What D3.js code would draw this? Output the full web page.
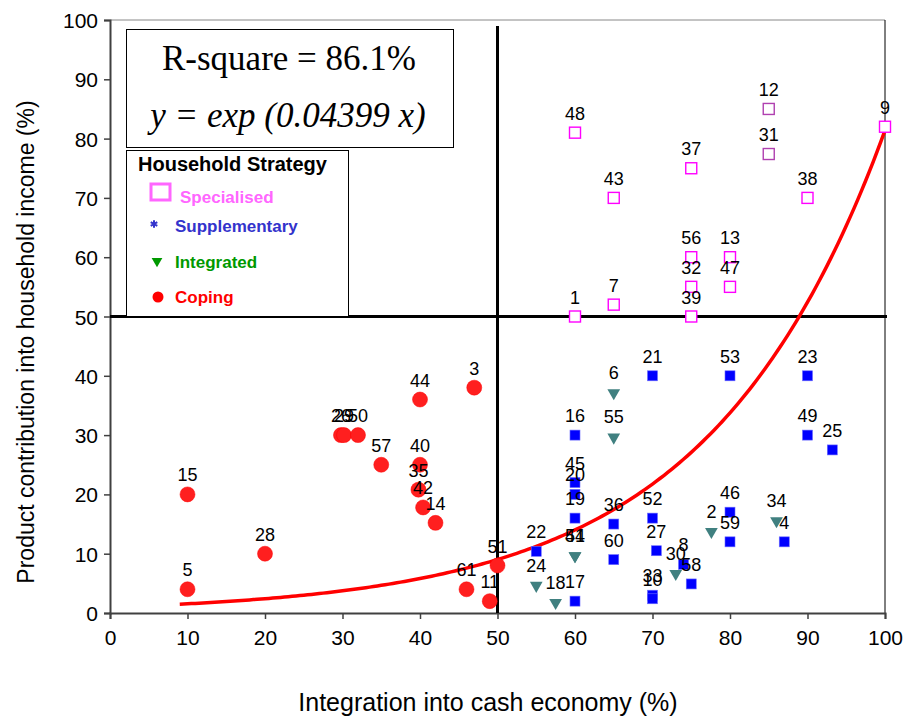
<!DOCTYPE html>
<html>
<head>
<meta charset="utf-8">
<script src="https://cdn.jsdelivr.net/npm/d3@7"></script>
<style>
  body { margin: 0; background: #fff; }
  svg { display: block; }
</style>
</head>
<body>
<div id="chart"></div>
<script>
// [household id, integration into cash economy %, product contribution %]
const specialised = [
    [48, 60, 81], [12, 85, 85], [9, 100, 82], [31, 85, 77.4], [37, 75, 75],
    [43, 65, 70], [38, 90, 70], [56, 75, 60], [13, 80, 60], [32, 75, 55],
    [47, 80, 55], [7, 65, 52], [1, 60, 50], [39, 75, 50]
]
const supplementary = [
    [21, 70, 40], [53, 80, 40], [23, 90, 40], [16, 60, 30], [49, 90, 30],
    [25, 93.2, 27.5], [45, 60, 22], [20, 60, 20], [19, 60, 16], [36, 65, 15],
    [52, 70, 16], [46, 80, 17], [59, 80, 12], [4, 87, 12], [22, 55, 10.4],
    [60, 65, 9], [27, 70.5, 10.5], [8, 74, 8.2], [58, 75, 4.9], [33, 70, 3],
    [10, 70, 2.4], [17, 60, 2]
]
const integrated = [
    [6, 65, 37.3], [55, 65, 29.8], [41, 60, 9.8], [54, 60, 9.8], [24, 55, 4.8],
    [18, 57.5, 1.9], [30, 73, 6.8], [2, 77.6, 13.9], [34, 86, 15.7]
]
const coping = [
    [5, 10, 4], [15, 10, 20], [28, 20, 10], [26, 29.8, 30], [29, 30.2, 30],
    [50, 32, 30], [57, 35, 25], [44, 40, 36], [40, 40, 25], [35, 39.8, 20.8],
    [42, 40.4, 17.8], [14, 42, 15.2], [3, 47, 38], [61, 46, 4], [11, 49, 2],
    [51, 50, 8]
]

const xTicks = [0, 10, 20, 30, 40, 50, 60, 70, 80, 90, 100]
const yTicks = [0, 10, 20, 30, 40, 50, 60, 70, 80, 90, 100]

// fitted model shown in the box: y = exp(b x)
const fitCoef = 0.04399
const fitFrom = 9
const fitTo = 100
const rSquare = "86.1%"

const legendItems = [
    { name: "Specialised", color: "#ff66ff", marker: "square" },
    { name: "Supplementary", color: "#3333cc", marker: "star" },
    { name: "Integrated", color: "#009900", marker: "triangle" },
    { name: "Coping", color: "#ff0000", marker: "circle" }
]


const width = 905
const height = 719
const sans = "'Liberation Sans', Arial, sans-serif"
const serif = "'Liberation Serif', 'Times New Roman', serif"

const x = d3.scaleLinear().domain([0, 100]).range([110, 885])
const y = d3.scaleLinear().domain([0, 100]).range([613, 20])

const svg = d3.select("#chart")
    .append("svg")
    .attr("width", width)
    .attr("height", height)

// frame
svg.append("line")
    .attr("x1", x(0)).attr("x2", x(100))
    .attr("y1", y(100)).attr("y2", y(100))
    .attr("stroke", "#888").attr("stroke-width", 1)
svg.append("line")
    .attr("x1", x(100)).attr("x2", x(100))
    .attr("y1", y(100)).attr("y2", y(0))
    .attr("stroke", "#000").attr("stroke-width", 1)

// axes
const xAxis = svg.append("g")
    .attr("transform", `translate(0, ${y(0)})`)
    .call(d3.axisBottom(x).tickValues(xTicks).tickSize(6).tickPadding(6))
const yAxis = svg.append("g")
    .attr("transform", `translate(${x(0)}, 0)`)
    .call(d3.axisLeft(y).tickValues(yTicks).tickSize(6).tickPadding(6))

for (const ax of [xAxis, yAxis]) {
    ax.select(".domain").attr("stroke", "#404040").attr("stroke-width", 2)
    ax.selectAll(".tick line").attr("stroke", "#404040").attr("stroke-width", 1.5)
    ax.selectAll(".tick text")
        .attr("fill", "#000")
        .style("font-family", sans)
        .style("font-size", "21px")
}
xAxis.selectAll(".tick text").attr("dy", "0.95em")
yAxis.selectAll(".tick text").attr("dy", "0.36em")

// quadrant lines at 50 / 50
svg.append("line")
    .attr("x1", x(50)).attr("x2", x(50))
    .attr("y1", y(99)).attr("y2", y(0))
    .attr("stroke", "#000").attr("stroke-width", 3)
svg.append("line")
    .attr("x1", x(0)).attr("x2", x(100) + 2)
    .attr("y1", y(50)).attr("y2", y(50))
    .attr("stroke", "#000").attr("stroke-width", 3)

// axis titles
svg.append("text")
    .attr("x", 488).attr("y", 711)
    .attr("text-anchor", "middle")
    .style("font-family", sans).style("font-size", "25px")
    .text("Integration into cash economy (%)")
svg.append("text")
    .attr("transform", "translate(34, 342) rotate(-90)")
    .attr("text-anchor", "middle")
    .style("font-family", sans).style("font-size", "23px")
    .text("Product contribution into household income (%)")

// fitted curve
const fitLine = d3.line()
    .x(d => x(d))
    .y(d => y(Math.exp(fitCoef * d)))
svg.append("path")
    .datum(d3.range(fitFrom, fitTo + 0.5, 0.5))
    .attr("fill", "none")
    .attr("stroke", "#ff0000")
    .attr("stroke-width", 3.5)
    .attr("d", fitLine)

// markers
const gPts = svg.append("g").attr("class", "points")

gPts.selectAll(".cop")
    .data(coping)
    .join("circle")
    .attr("cx", d => x(d[1]))
    .attr("cy", d => y(d[2]))
    .attr("r", 7.5)
    .attr("fill", "#ff1f1f")
    .attr("stroke", "#f00")
    .attr("stroke-width", 0.5)

gPts.selectAll(".sup")
    .data(supplementary)
    .join("rect")
    .attr("x", d => x(d[1]) - 5)
    .attr("y", d => y(d[2]) - 5)
    .attr("width", 10)
    .attr("height", 10)
    .attr("fill", "#0000ff")
    .attr("stroke", "#6b6bff")
    .attr("stroke-width", 0.6)

const tri = d3.symbol().type(d3.symbolTriangle).size(70)
gPts.selectAll(".int")
    .data(integrated)
    .join("path")
    .attr("transform", d => `translate(${x(d[1])}, ${y(d[2]) + 1}) rotate(180)`)
    .attr("d", tri)
    .attr("fill", "#408080")

gPts.selectAll(".spec")
    .data(specialised)
    .join("rect")
    .attr("x", d => x(d[1]) - 5.5)
    .attr("y", d => y(d[2]) - 5.5)
    .attr("width", 11)
    .attr("height", 11)
    .attr("fill", "#fff")
    .attr("stroke", d => (d[0] === 12 || d[0] === 31) ? "#b040b0" : "#ff00ff")
    .attr("stroke-width", 1.4)

// id labels above every point
const allPoints = [...coping, ...supplementary, ...integrated, ...specialised]
svg.append("g")
    .selectAll("text")
    .data(allPoints)
    .join("text")
    .attr("x", d => x(d[1]))
    .attr("y", d => y(d[2]) - 13)
    .attr("text-anchor", "middle")
    .style("font-family", sans)
    .style("font-size", "18px")
    .attr("fill", "#000")
    .text(d => d[0])

// model box
svg.append("rect")
    .attr("x", 126.5).attr("y", 29.5)
    .attr("width", 327).attr("height", 118)
    .attr("fill", "#fff").attr("stroke", "#000").attr("stroke-width", 1)
svg.append("text")
    .attr("x", 289).attr("y", 70)
    .attr("text-anchor", "middle")
    .style("font-family", serif).style("font-size", "35px")
    .text(`R-square = ${rSquare}`)
svg.append("text")
    .attr("x", 288).attr("y", 127)
    .attr("text-anchor", "middle")
    .style("font-family", serif).style("font-size", "35px")
    .style("font-style", "italic")
    .text(`y = exp (${fitCoef} x)`)

// legend box
const lg = svg.append("g").attr("class", "legend")
lg.append("rect")
    .attr("x", 126.5).attr("y", 150.5)
    .attr("width", 222).attr("height", 166)
    .attr("fill", "#fff").attr("stroke", "#000").attr("stroke-width", 1)
lg.append("text")
    .attr("x", 138).attr("y", 171)
    .style("font-family", sans).style("font-size", "20px")
    .style("font-weight", "bold")
    .text("Household Strategy")

const rowY = [192, 224, 261, 297]
const textX = [180, 175, 175, 175]
const textY = [203, 232, 268, 303]

const items = lg.selectAll(".legend-item")
    .data(legendItems)
    .join("g")
    .attr("class", "legend-item")

items.each(function (d, i) {
    const g = d3.select(this)
    if (d.marker === "square") {
        g.append("rect")
            .attr("x", 151).attr("y", 184)
            .attr("width", 19).attr("height", 16)
            .attr("fill", "none").attr("stroke", d.color).attr("stroke-width", 3)
    } else if (d.marker === "star") {
        g.append("path")
            .attr("transform", `translate(154, ${rowY[i]})`)
            .attr("d", d3.symbol().type(d3.symbolAsterisk).size(40)())
            .attr("stroke", d.color).attr("stroke-width", 2).attr("fill", "none")
    } else if (d.marker === "triangle") {
        g.append("path")
            .attr("transform", `translate(157, ${rowY[i]}) rotate(180)`)
            .attr("d", d3.symbol().type(d3.symbolTriangle).size(50)())
            .attr("fill", d.color)
    } else {
        g.append("circle")
            .attr("cx", 158).attr("cy", rowY[i]).attr("r", 5.5)
            .attr("fill", d.color)
    }
    g.append("text")
        .attr("x", textX[i]).attr("y", textY[i])
        .style("font-family", sans).style("font-size", "17px")
        .style("font-weight", "bold")
        .attr("fill", d.color)
        .text(d.name)
})
</script>
</body>
</html>
